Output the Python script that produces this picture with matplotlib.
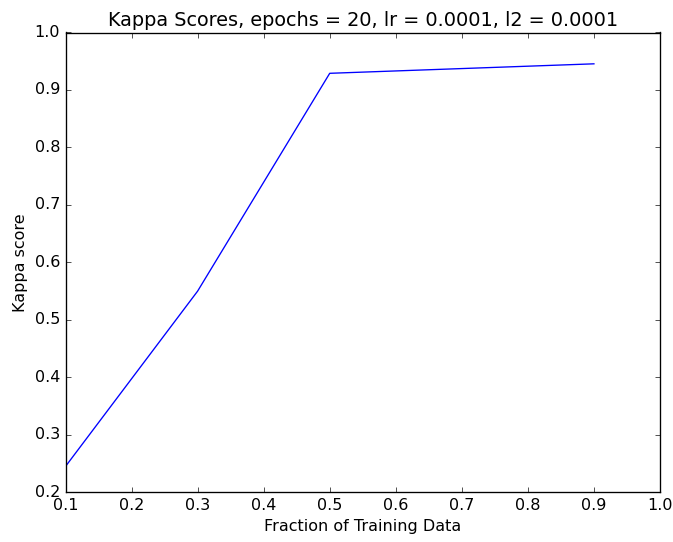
import matplotlib
matplotlib.use("Agg")
from matplotlib import pyplot as plt

fractions = [0.1, 0.3, 0.5, 0.9]
kappaScores = [0.245, 0.55, 0.929, 0.9455]

plt.style.use("classic")

W, H, DPI = 673, 542, 96
fig = plt.figure(figsize=(W / DPI, H / DPI), dpi=DPI)
fig.patch.set_facecolor("white")
fig.subplots_adjust(left=65.5 / W, right=660.0 / W, bottom=1 - 492.3 / H, top=1 - 32.5 / H)
ax = fig.add_subplot(111)

ax.plot(fractions, kappaScores, color="b", linewidth=1.0)
ax.set_xlim(0.1, 1.0)
ax.set_ylim(0.2, 1.0)
ax.set_xticks([0.1, 0.2, 0.3, 0.4, 0.5, 0.6, 0.7, 0.8, 0.9, 1.0])
ax.set_yticks([0.2, 0.3, 0.4, 0.5, 0.6, 0.7, 0.8, 0.9, 1.0])

ax.set_title("Kappa Scores, epochs = 20, lr = 0.0001, l2 = 0.0001")
ax.set_xlabel("Fraction of Training Data")
ax.set_ylabel("Kappa score")

fig.savefig("out.png", dpi=DPI, facecolor="white")
